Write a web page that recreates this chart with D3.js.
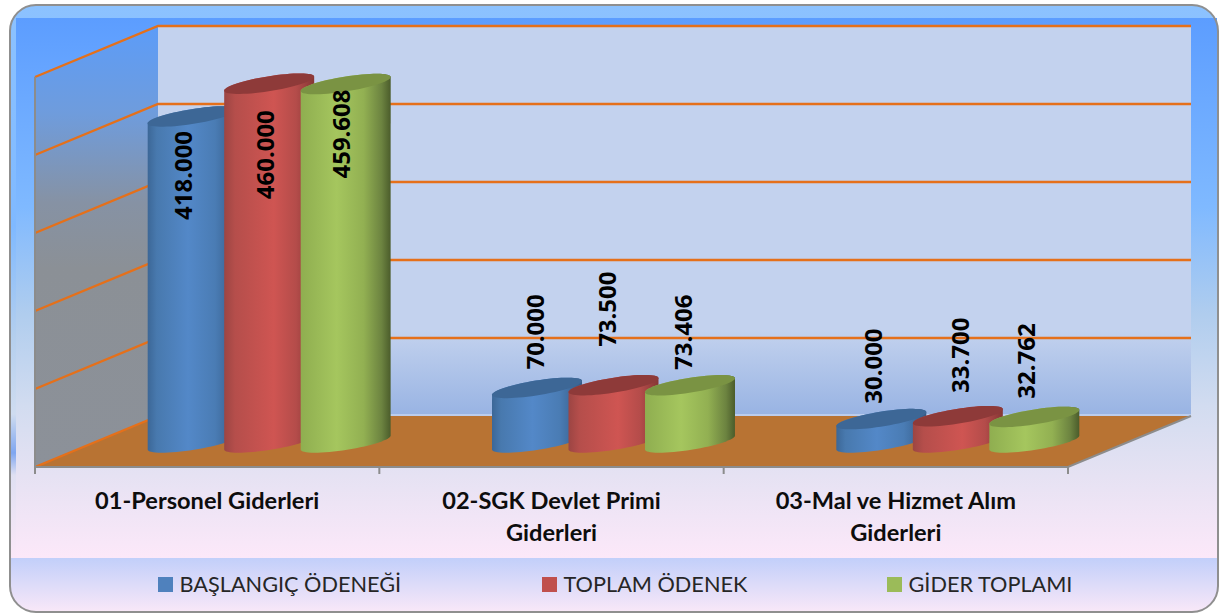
<!DOCTYPE html>
<html>
<head>
<meta charset="utf-8">
<script src="https://cdn.jsdelivr.net/npm/d3@7"></script>
<style>
    body { margin: 0; background: #fff; }
    svg { display: block; }
</style>
</head>
<body>
<svg id="chart"></svg>
<script>
// Chart data
var categories = ["01-Personel Giderleri", "02-SGK Devlet Primi Giderleri", "03-Mal ve Hizmet Alım Giderleri"]
var categoryLines = [["01-Personel Giderleri"], ["02-SGK Devlet Primi", "Giderleri"], ["03-Mal ve Hizmet Alım", "Giderleri"]]
var seriesNames = ["BAŞLANGIÇ ÖDENEĞİ", "TOPLAM ÖDENEK", "GİDER TOPLAMI"]
var baslangicOdenegi = [418000, 70000, 30000]
var toplamOdenek = [460000, 73500, 33700]
var giderToplami = [459608, 73406, 32762]
var gridValues = [0, 100000, 200000, 300000, 400000, 500000]

// Hand placed data labels, the original has them moved around: [dx, dy] from top of the bar
var labelShift = [
    [[-9, 60], [-4, 72], [-4, 51]],
    [[-2, -55], [-6, -75], [-7, -52]],
    [[-8, -52], [3, -60], [-8, -55]]
]
var seriesValues = [baslangicOdenegi, toplamOdenek, giderToplami]

const width = 1219, height = 615
const depthX = 123, depthY = 51   // how far the back wall is moved from the front
const radius = 45

const svg = d3.select("#chart").attr("width", width).attr("height", height)
const defs = svg.append("defs")

// Make a vertical gradient in page coordinates
function pageGradient(id, y1, y2, stops) {
    const g = defs.append("linearGradient").attr("id", id)
        .attr("gradientUnits", "userSpaceOnUse")
        .attr("x1", 0).attr("x2", 0).attr("y1", y1).attr("y2", y2)
    stops.forEach(s => g.append("stop").attr("offset", s[0]).attr("stop-color", s[1]))
}

// Gradient across the body of a cylinder
function bodyGradient(id, stops) {
    const g = defs.append("linearGradient").attr("id", id)
        .attr("x1", 0).attr("x2", 1).attr("y1", 0).attr("y2", 0)
    stops.forEach(s => g.append("stop").attr("offset", s[0]).attr("stop-color", s[1]))
}

pageGradient("frameFill", 5, 558, [[0, "#8cc2ff"], [0.4, "#7fb9ff"], [0.6, "#b4cfee"], [0.74, "#cfdcf0"], [0.81, "#7fa6f0"], [0.85, "#dfe0f2"], [1, "#fbe8f8"]])
pageGradient("plotFill", 18, 557, [[0, "#5c9dff"], [0.35, "#7fb9ff"], [0.55, "#b0cdee"], [0.72, "#d2dcf0"], [0.85, "#e6e2f3"], [1, "#fce8f9"]])
pageGradient("legendFill", 558, 612, [[0, "#c2cffa"], [1, "#f9e8f8"]])
pageGradient("wallFill", 26, 467, [[0, "#5c9cf8"], [0.2, "#6f9cdc"], [0.4, "#8692a4"], [0.55, "#8b9096"], [1, "#8c9199"]])
pageGradient("backFill", 26, 416, [[0, "#c3d2ee"], [0.78, "#c3d2ee"], [1, "#98b3e3"]])

bodyGradient("body0", [[0, "#3c6797"], [0.1, "#4879ae"], [0.45, "#5388c8"], [0.75, "#4a7cb4"], [1, "#345a86"]])
bodyGradient("body1", [[0, "#9c4543"], [0.12, "#b54e4b"], [0.55, "#cf5552"], [0.8, "#b44c4a"], [1, "#853634"]])
bodyGradient("body2", [[0, "#8fae50"], [0.4, "#a5c65e"], [0.7, "#92b052"], [0.9, "#6c8340"], [1, "#4b5c2b"]])
const capColors = ["#3d6796", "#8e3a39", "#7a9343"]
const swatchColors = ["#4f81bd", "#c0504d", "#9bbb59"]

// Scales
const x = d3.scaleBand().domain(categories).range([35, 1068])
const bar = d3.scaleBand().domain(seriesNames).range([-114.25, 115.25])
const y = d3.scaleLinear().domain([0, 500000]).range([467, 77])
const trLocale = d3.formatLocale({ decimal: ",", thousands: ".", grouping: [3], currency: ["₺", ""] })
const fmt = trLocale.format(",.0f")

// Background frame
svg.append("rect").attr("x", 10).attr("y", 5).attr("width", 1208).attr("height", 607)
    .attr("rx", 26).attr("fill", "url(#frameFill)")
svg.append("rect").attr("x", 16).attr("y", 18).attr("width", 1201).attr("height", 540)
    .attr("fill", "url(#plotFill)")
svg.append("path")
    .attr("d", "M10.5,558H1217.5V586A26,26 0 0 1 1191.5,612H36.5A26,26 0 0 1 10.5,586Z")
    .attr("fill", "url(#legendFill)")
svg.append("rect").attr("x", 10).attr("y", 5).attr("width", 1208).attr("height", 607)
    .attr("rx", 26).attr("fill", "none").attr("stroke", "#8f8f8f").attr("stroke-width", 2)

// Walls and floor
const x0 = x.range()[0], x1 = x.range()[1]
const points = a => a.map(p => p.join(",")).join(" ")
svg.append("polygon")
    .attr("points", points([[x0, y(500000)], [x0 + depthX, y(500000) - depthY], [x0 + depthX, y(0) - depthY], [x0, y(0)]]))
    .attr("fill", "url(#wallFill)")
svg.append("rect").attr("x", x0 + depthX).attr("y", y(500000) - depthY)
    .attr("width", x1 - x0).attr("height", y(0) - y(500000))
    .attr("fill", "url(#backFill)")
svg.append("polygon")
    .attr("points", points([[x0, y(0)], [x1, y(0)], [x1 + depthX, y(0) - depthY], [x0 + depthX, y(0) - depthY]]))
    .attr("fill", "#b87333")

// Grid lines run along the left wall and then the back wall
svg.selectAll(".grid").data(gridValues).enter().append("polyline")
    .attr("class", "grid")
    .attr("points", d => d == 0
        ? points([[x0, y(d)], [x0 + depthX, y(d) - depthY]])
        : points([[x0, y(d)], [x0 + depthX, y(d) - depthY], [x1 + depthX, y(d) - depthY]]))
    .attr("fill", "none")
    .attr("stroke", "#e5701a")
    .attr("stroke-width", 2.4)
svg.append("line")
    .attr("x1", x0 + depthX).attr("x2", x1 + depthX)
    .attr("y1", y(0) - depthY - 1).attr("y2", y(0) - depthY - 1)
    .attr("stroke", "#dfe7f7").attr("stroke-width", 1)

// Axis lines and ticks
const axisColor = "#8c8c8c"
svg.append("polyline")
    .attr("points", points([[x0, y(500000)], [x0, y(0)], [x1, y(0)], [x1 + depthX, y(0) - depthY]]))
    .attr("fill", "none").attr("stroke", axisColor).attr("stroke-width", 2)
svg.selectAll(".tick").data(d3.range(categories.length + 1)).enter().append("line")
    .attr("class", "tick")
    .attr("x1", d => x0 + d * x.step()).attr("x2", d => x0 + d * x.step())
    .attr("y1", y(0)).attr("y2", y(0) + 7)
    .attr("stroke", axisColor).attr("stroke-width", 2)

// One outline for the cap ellipse, tilted because of the 3D view
function capPoint(cx, cy, t) {
    return [cx + radius * Math.cos(t), cy - 7 * Math.cos(t) - 7.5 * Math.sin(t)]
}
const line = d3.line()

function capPath(cx, cy) {
    return line(d3.range(0, 2 * Math.PI, 0.1).map(t => capPoint(cx, cy, t))) + "Z"
}

function bodyPath(cx, topY, baseY) {
    // front half of the base, then back up over the top
    const front = d3.range(Math.PI, 2 * Math.PI + 0.01, 0.1).map(t => capPoint(cx, baseY, t))
    const back = d3.range(0, Math.PI + 0.01, 0.1).map(t => capPoint(cx, topY, t))
    return line(front.concat(back)) + "Z"
}

// Cylinders
categories.forEach(function (cat, c) {
    const cg = x(cat) + x.bandwidth() / 2 + depthX / 2
    seriesNames.forEach(function (name, s) {
        const cx = cg + bar(name) + bar.bandwidth() / 2
        const value = seriesValues[s][c]
        const baseY = y(0) - depthY / 2 + 1
        const topY = y(value) - depthY / 2 + 1
        svg.append("path").attr("d", bodyPath(cx, topY, baseY)).attr("fill", `url(#body${s})`)
        svg.append("path").attr("d", capPath(cx, topY)).attr("fill", capColors[s])
    })
})

// Data labels go last so the next bar does not cover them
categories.forEach(function (cat, c) {
    const cg = x(cat) + x.bandwidth() / 2 + depthX / 2
    seriesNames.forEach(function (name, s) {
        const value = seriesValues[s][c]
        const lx = cg + bar(name) + bar.bandwidth() / 2 + labelShift[c][s][0]
        const ly = y(value) - depthY / 2 + labelShift[c][s][1]
        svg.append("text")
            .attr("transform", `translate(${lx},${ly}) rotate(-90)`)
            .attr("text-anchor", "middle")
            .attr("dy", "0.36em")
            .attr("font-family", "Noto Sans")
            .attr("font-weight", "bold")
            .attr("font-size", 24)
            .attr("fill", "#000")
            .text(fmt(value))
    })
})

// Category labels
categories.forEach(function (cat, c) {
    categoryLines[c].forEach(function (txt, i) {
        svg.append("text")
            .attr("x", x(cat) + x.bandwidth() / 2)
            .attr("y", 509 + i * 32)
            .attr("text-anchor", "middle")
            .attr("font-family", "Lato")
            .attr("font-weight", "bold")
            .attr("font-size", 23.6)
            .attr("fill", "#0d0d0d")
            .text(txt)
    })
})

// Legend
const legendX = d3.scaleOrdinal().domain(seriesNames).range([158, 542, 887])
seriesNames.forEach(function (name, s) {
    svg.append("rect").attr("x", legendX(name)).attr("y", 577).attr("width", 15).attr("height", 15)
        .attr("fill", swatchColors[s])
    svg.append("text")
        .attr("x", legendX(name) + 21.5)
        .attr("y", 592)
        .attr("font-family", "Lato")
        .attr("font-size", 21.7)
        .attr("fill", "#262626")
        .text(name)
})
</script>
</body>
</html>
